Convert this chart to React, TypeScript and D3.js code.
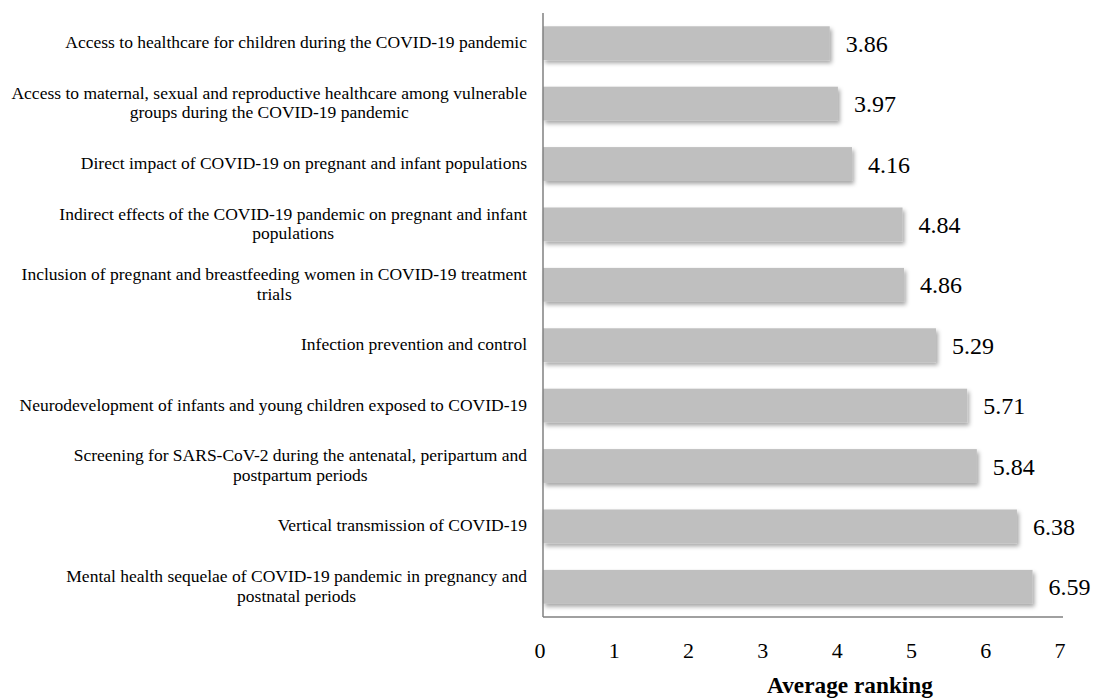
import React, { useEffect, useRef } from "react";
import * as d3 from "d3";

const categories: string[][] = [
  ["Access to healthcare for children during the COVID-19 pandemic"],
  ["Access to maternal, sexual and reproductive healthcare among vulnerable", "groups during the COVID-19 pandemic"],
  ["Direct impact of COVID-19 on pregnant and infant populations"],
  ["Indirect effects of the COVID-19 pandemic on pregnant and infant", "populations"],
  ["Inclusion of pregnant and breastfeeding women in COVID-19 treatment", "trials"],
  ["Infection prevention and control"],
  ["Neurodevelopment of infants and young children exposed to COVID-19"],
  ["Screening for SARS-CoV-2 during the antenatal, peripartum and", "postpartum periods"],
  ["Vertical transmission of COVID-19"],
  ["Mental health sequelae of COVID-19 pandemic in pregnancy and", "postnatal periods"],
];
const values: number[] = [3.86, 3.97, 4.16, 4.84, 4.86, 5.29, 5.71, 5.84, 6.38, 6.59];
const xTicks: number[] = [0, 1, 2, 3, 4, 5, 6, 7];
const xTitle = "Average ranking";

const W = 1094;
const H = 700;
const FONT = "'Liberation Serif', 'Times New Roman', serif";

export default function App() {
  const ref = useRef<SVGSVGElement>(null);
  useEffect(() => {
    const svg = d3.select(ref.current);
    svg.selectAll("*").remove();

    const x = d3.scaleLinear().domain([0, 7]).range([543, 1063]);
    const y = d3
      .scaleBand<number>()
      .domain(d3.range(values.length))
      .range([13, 617])
      .paddingInner(0.44)
      .paddingOuter(0.22);

    const defs = svg.append("defs");
    const f = defs
      .append("filter")
      .attr("id", "shadow")
      .attr("x", "-5%")
      .attr("y", "-30%")
      .attr("width", "110%")
      .attr("height", "170%");
    f.append("feDropShadow")
      .attr("dx", 2)
      .attr("dy", 3)
      .attr("stdDeviation", 2)
      .attr("flood-color", "#000")
      .attr("flood-opacity", 0.35);

    // bars
    svg
      .append("g")
      .selectAll("rect")
      .data(values)
      .join("rect")
      .attr("x", x(0))
      .attr("y", (_, i) => y(i)!)
      .attr("width", (d) => x(d) - x(0))
      .attr("height", y.bandwidth())
      .attr("fill", "#bfbfbf")
      .attr("filter", "url(#shadow)");

    // value labels
    svg
      .append("g")
      .selectAll("text")
      .data(values)
      .join("text")
      .attr("x", (d) => x(d) + 16)
      .attr("y", (_, i) => y(i)! + y.bandwidth() / 2 + 3)
      .attr("dominant-baseline", "middle")
      .attr("font-family", FONT)
      .attr("font-size", 24)
      .attr("fill", "#000")
      .text((d) => d.toFixed(2));

    // axes lines
    svg
      .append("line")
      .attr("x1", x(0))
      .attr("x2", x(0))
      .attr("y1", 13)
      .attr("y2", 617)
      .attr("stroke", "#808080")
      .attr("stroke-width", 1.5);
    svg
      .append("line")
      .attr("x1", x(0))
      .attr("x2", x(7))
      .attr("y1", 617)
      .attr("y2", 617)
      .attr("stroke", "#808080")
      .attr("stroke-width", 1.5);

    // tick labels
    svg
      .append("g")
      .selectAll("text")
      .data(xTicks)
      .join("text")
      .attr("x", (d) => x(d) - 3)
      .attr("y", 658)
      .attr("text-anchor", "middle")
      .attr("font-family", FONT)
      .attr("font-size", 22)
      .text((d) => String(d));

    svg
      .append("text")
      .attr("x", 850)
      .attr("y", 693)
      .attr("text-anchor", "middle")
      .attr("font-family", FONT)
      .attr("font-size", 23.3)
      .attr("font-weight", "bold")
      .text(xTitle);

    // category labels
    const right = 527;
    const lh = 19.5;
    categories.forEach((lines, i) => {
      const cy = y(i)! + y.bandwidth() / 2 + 1;
      const g = svg.append("g");
      const texts = lines.map((l, j) =>
        g
          .append("text")
          .attr("y", cy + (j - (lines.length - 1) / 2) * lh)
          .attr("dominant-baseline", "middle")
          .attr("text-anchor", "middle")
          .attr("font-family", FONT)
          .attr("font-size", 17.5)
          .text(l)
      );
      const maxW = d3.max(texts, (t) => (t.node() as SVGTextElement).getComputedTextLength()) || 0;
      texts.forEach((t) => t.attr("x", right - maxW / 2));
    });
  }, []);

  return (
    <svg
      ref={ref}
      width={W}
      height={H}
      style={{ position: "absolute", left: 0, top: 0, background: "#fff" }}
    />
  );
}
